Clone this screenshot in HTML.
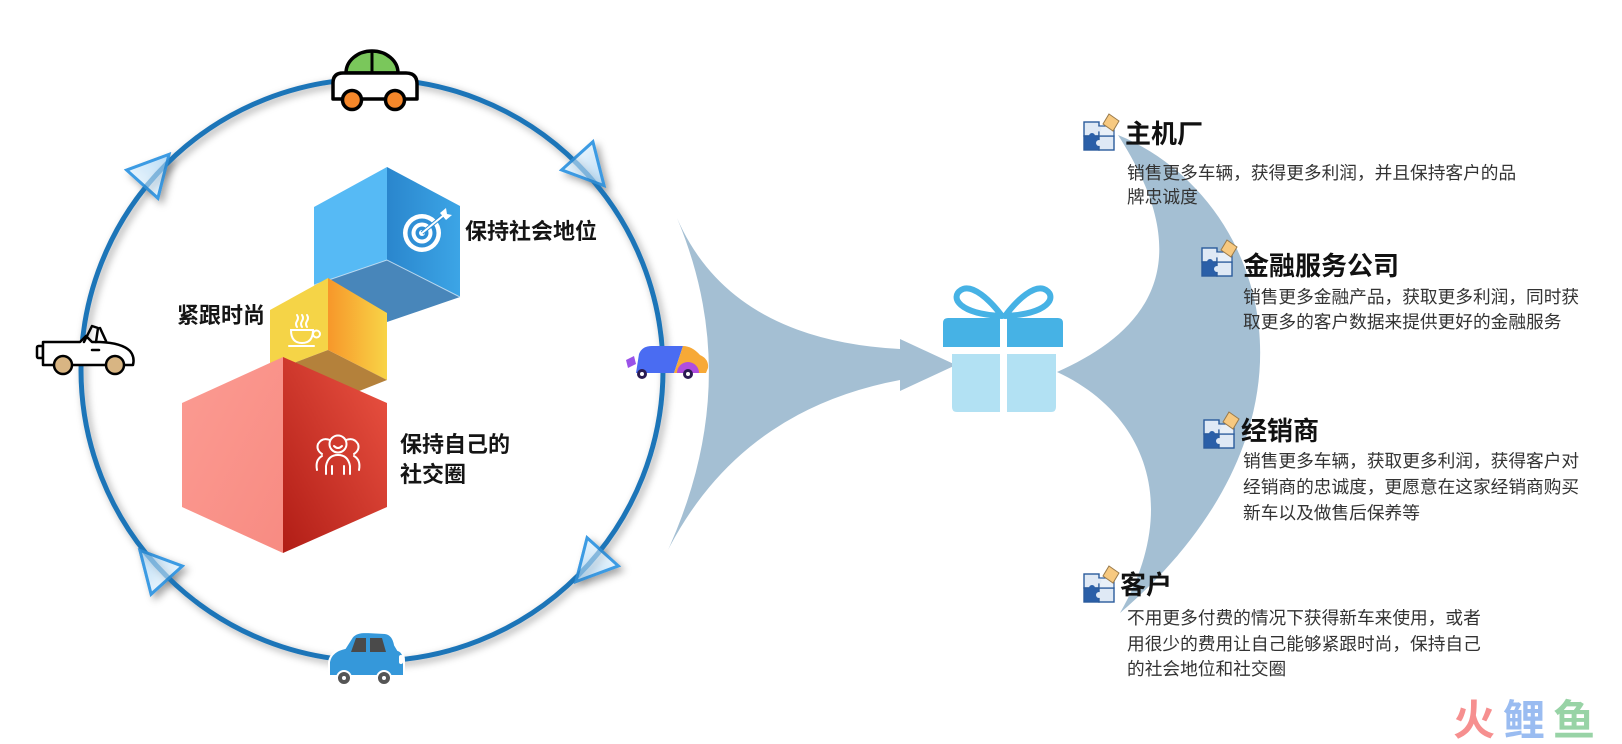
<!DOCTYPE html>
<html>
<head>
<meta charset="utf-8">
<style>
  html,body{margin:0;padding:0;background:#fff;}
  body{width:1622px;height:744px;position:relative;overflow:hidden;
       font-family:"Liberation Sans","Noto Sans CJK SC",sans-serif;}
  svg.main{position:absolute;left:0;top:0;}
  .t{position:absolute;white-space:nowrap;font-family:"Liberation Sans","Noto Sans CJK SC",sans-serif;}
  .lbl{font-size:22px;font-weight:bold;color:#151515;line-height:30px;}
  .ttl{font-size:26px;font-weight:bold;color:#111;line-height:30px;}
  .dsc{font-size:17.7px;color:#333;}
  .wm{font-size:42px;font-weight:bold;letter-spacing:8px;line-height:44px;opacity:0.9;}
</style>
</head>
<body>
<svg class="main" width="1622" height="744" viewBox="0 0 1622 744" xmlns="http://www.w3.org/2000/svg">
  <defs>
    <filter id="sh" x="-20%" y="-20%" width="140%" height="140%">
      <feDropShadow dx="3" dy="3" stdDeviation="4" flood-color="#000" flood-opacity="0.35"/>
    </filter>
    <filter id="tsh" x="-50%" y="-50%" width="200%" height="200%">
      <feDropShadow dx="4" dy="4" stdDeviation="4" flood-color="#000" flood-opacity="0.35"/>
    </filter>
    <linearGradient id="gBlueR" x1="0" y1="0" x2="1" y2="0">
      <stop offset="0" stop-color="#2a86cd"/>
      <stop offset="1" stop-color="#3ca5e6"/>
    </linearGradient>
    <linearGradient id="gYelR" x1="0" y1="0" x2="1" y2="0">
      <stop offset="0" stop-color="#f7972a"/>
      <stop offset="1" stop-color="#f8d447"/>
    </linearGradient>
    <linearGradient id="gRedR" x1="0" y1="1" x2="1" y2="0">
      <stop offset="0" stop-color="#b11d16"/>
      <stop offset="1" stop-color="#ec5443"/>
    </linearGradient>
    <linearGradient id="gRedL" x1="0" y1="0" x2="1" y2="1">
      <stop offset="0" stop-color="#fb9b92"/>
      <stop offset="1" stop-color="#f88b82"/>
    </linearGradient>
    <linearGradient id="gTri" x1="0" y1="0" x2="1" y2="0">
      <stop offset="0" stop-color="#e4f2fc"/>
      <stop offset="1" stop-color="#b9dcf6"/>
    </linearGradient>
    <g id="puz">
      <rect x="1" y="8" width="15" height="14" fill="#dfe9f5" stroke="#2a5b9c" stroke-width="1.4"/>
      <rect x="1" y="22" width="15" height="14" fill="#2a5fa8" stroke="#2a5b9c" stroke-width="1.4"/>
      <rect x="16" y="22" width="15" height="14" fill="#dfe9f5" stroke="#2a5b9c" stroke-width="1.4"/>
      <rect x="16" y="12" width="15" height="10" fill="#e9f0f8" stroke="#2a5b9c" stroke-width="1.2"/>
      <circle cx="9" cy="22" r="3" fill="#2a5fa8"/>
      <circle cx="16" cy="29" r="3" fill="#dfe9f5"/>
      <circle cx="16" cy="15" r="2.5" fill="#dfe9f5"/>
      <polygon points="26,0 36,7 30,17 20,10" fill="#f7c980" stroke="#9a7a4a" stroke-width="1"/>
    </g>
    <path id="tri" d="M21,0 L-19,-21 L-19,21 Z" fill="url(#gTri)" stroke="#3d9be3" stroke-width="3" stroke-linejoin="miter"/>
  </defs>

  <!-- triangles -->
  <g filter="url(#tsh)">
    <use href="#tri" transform="translate(155,170) rotate(312)"/>
    <use href="#tri" transform="translate(590,170) rotate(48)"/>
    <use href="#tri" transform="translate(590,566) rotate(132)"/>
    <use href="#tri" transform="translate(154,566) rotate(228)"/>
  </g>

  <!-- big circle -->
  <circle cx="372" cy="370" r="291" fill="none" stroke="#1f75b8" stroke-width="5" filter="url(#sh)"/>

  <!-- triangles overlay (semi-transparent on top of line) -->
  <g opacity="0.55">
    <use href="#tri" transform="translate(155,170) rotate(312)"/>
    <use href="#tri" transform="translate(590,170) rotate(48)"/>
    <use href="#tri" transform="translate(590,566) rotate(132)"/>
    <use href="#tri" transform="translate(154,566) rotate(228)"/>
  </g>

  <!-- blue cube -->
  <polygon points="387,167 314,207 314,285 387,260" fill="#56baf5"/>
  <polygon points="387,167 460,206 460,297 387,260" fill="url(#gBlueR)"/>
  <polygon points="387,260 460,297 387,322 314,285" fill="#4886ba"/>
  <polyline points="314,285 387,260 460,297" fill="none" stroke="#cfe6f7" stroke-width="1" opacity="0.8"/>
  <!-- target icon -->
  <circle cx="422" cy="233" r="19" fill="#fff"/>
  <circle cx="422" cy="233" r="14.5" fill="#2f8fd6"/>
  <circle cx="422" cy="233" r="10.5" fill="#fff"/>
  <circle cx="422" cy="233" r="6.5" fill="#2f8fd6"/>
  <circle cx="422" cy="233" r="3" fill="#fff"/>
  <line x1="422" y1="233" x2="444" y2="215" stroke="#2f8fd6" stroke-width="4"/>
  <line x1="422" y1="233" x2="444" y2="215" stroke="#fff" stroke-width="2"/>
  <path d="M440,213 L446,208 L447,214 L452,215 L446,220 Z" fill="#fff"/>

  <!-- yellow cube -->
  <polygon points="328,278 270,310 270,372 328,350" fill="#f5d447"/>
  <polygon points="328,278 387,313 387,380 328,350" fill="url(#gYelR)"/>
  <polygon points="328,350 387,380 329,403 270,372" fill="#b4813b"/>
  <!-- coffee icon -->
  <g fill="none" stroke="#fff" stroke-width="2" stroke-linecap="round">
    <path d="M291,330 L313,330 Q313,343 302,343 Q291,343 291,330 Z"/>
    <circle cx="316.5" cy="334" r="3.5"/>
    <line x1="289" y1="346" x2="314" y2="346"/>
    <path d="M297,327 Q295,324 297,321 Q299,318 297,315"/>
    <path d="M302,327 Q300,324 302,321 Q304,318 302,315"/>
    <path d="M307,327 Q305,324 307,321 Q309,318 307,315"/>
  </g>

  <!-- red cube -->
  <polygon points="283,357 182,403 182,507 283,553" fill="url(#gRedL)"/>
  <polygon points="283,357 387,403 387,507 283,553" fill="url(#gRedR)"/>
  <!-- people icon -->
  <g fill="none" stroke="#fff" stroke-width="2" stroke-linecap="round">
    <circle cx="338" cy="444" r="8.5"/>
    <path d="M334,446 Q338,450 342,446"/>
    <path d="M326,474 L326,466 Q328,455 338,455 Q348,455 350,466 L350,474"/>
    <path d="M330,440 Q322,437 318,444 Q316,450 322,454"/>
    <path d="M346,440 Q354,437 358,444 Q360,450 354,454"/>
    <path d="M317,470 Q315,460 322,456"/>
    <path d="M359,470 Q361,460 354,456"/>
    <line x1="332" y1="466" x2="332" y2="474"/>
    <line x1="344" y1="466" x2="344" y2="474"/>
  </g>

  <!-- top car -->
  <path d="M346,73 A26,22 0 0 1 398,73 Z" fill="#7ac75b" stroke="#000" stroke-width="3.5" stroke-linejoin="round"/>
  <line x1="372" y1="51" x2="372" y2="73" stroke="#000" stroke-width="3"/>
  <path d="M343,73 L406,73 Q417,73 417,84 L417,99 L333,99 L333,83 Q333,73 343,73 Z" fill="#fff" stroke="#000" stroke-width="3.5" stroke-linejoin="round"/>
  <circle cx="352" cy="100" r="9.5" fill="#f5872a" stroke="#000" stroke-width="3.5"/>
  <circle cx="395" cy="100" r="9.5" fill="#f5872a" stroke="#000" stroke-width="3.5"/>

  <!-- left convertible -->
  <g stroke="#000" stroke-width="2.5" stroke-linejoin="round" stroke-linecap="round">
    <rect x="37" y="346" width="6" height="12" rx="1.5" fill="#fff"/>
    <path d="M43,342 L80,342 L86,336 L92,342 L100,342 Q122,343 130,351 Q135,357 133,365 L43,365 Z" fill="#fff"/>
    <path d="M84,342 L92,326 L98,328 L96,342" fill="none"/>
    <line x1="100" y1="328" x2="106" y2="341"/>
    <line x1="92" y1="350" x2="99" y2="350"/>
    <circle cx="63" cy="365" r="9" fill="#d8b583"/>
    <circle cx="115" cy="365" r="9" fill="#d8b583"/>
  </g>

  <!-- right colorful car -->
  <path d="M626,360 L634,356 L636,364 L628,368 Z" fill="#9a52e8"/>
  <path d="M636,373 L639,354 Q642,346 652,346 L683,346 L674,373 Z" fill="#4a6cf2"/>
  <path d="M674,373 L683,346 Q692,346 700,355 Q709,359 708,368 L706,373 Z" fill="#f7a937"/>
  <path d="M677,373 A11,11 0 0 1 699,373 Z" fill="#b04de0"/>
  <circle cx="642" cy="374" r="5" fill="#2a1b52"/>
  <circle cx="642" cy="374" r="2" fill="#fff"/>
  <circle cx="688" cy="374" r="5" fill="#2a1b52"/>
  <circle cx="688" cy="374" r="2" fill="#fff"/>

  <!-- bottom blue car -->
  <path d="M329,676 L329,662 Q331,651 345,648 L352,637 Q356,632 366,632 L385,633 Q393,634 395,645 L398,650 Q404,652 404,661 L404,676 Z" fill="#3598da" stroke="#fff" stroke-width="2"/>
  <polygon points="356,638 366,638 366,652 351,652" fill="#4a4a4a"/>
  <polygon points="370,638 382,638 386,652 370,652" fill="#4a4a4a"/>
  <rect x="399" y="655" width="4" height="9" rx="2" fill="#fff"/>
  <circle cx="344" cy="678" r="7" fill="#555" stroke="#fff" stroke-width="2"/>
  <circle cx="344" cy="678" r="2" fill="#fff"/>
  <circle cx="384" cy="678" r="7" fill="#555" stroke="#fff" stroke-width="2"/>
  <circle cx="384" cy="678" r="2" fill="#fff"/>

  <!-- middle big arrow -->
  <path d="M677,218 Q730,340 900,349 L900,339 L956,365 L900,391 L900,380 Q740,410 668,550 Q745,380 677,218 Z" fill="#a4bfd3"/>

  <!-- gift -->
  <path d="M943,347 L943,323 Q943,318 948,318 L1058,318 Q1063,318 1063,323 L1063,347 Z" fill="#46b2e5"/>
  <path d="M952,354 L1056,354 L1056,407 Q1056,412 1051,412 L957,412 Q952,412 952,407 Z" fill="#b2e1f3"/>
  <rect x="1000" y="316" width="7" height="98" fill="#fff"/>
  <rect x="940" y="347" width="126" height="7" fill="#fff"/>
  <g fill="none" stroke="#46b2e5" stroke-width="6" stroke-linejoin="round">
    <path d="M1002,316 C990,300 972,283 961,290 C950,297 958,314 1002,316 Z"/>
    <path d="M1005,316 C1017,300 1035,283 1046,290 C1057,297 1049,314 1005,316 Z"/>
  </g>

  <!-- right crescent -->
  <path d="M1057,372 C1140,335 1205,270 1118,135 C1265,195 1345,420 1120,613 C1185,500 1140,410 1057,372 Z" fill="#a4bfd3"/>

  <!-- puzzle icons -->
  <use href="#puz" transform="translate(1083,114)"/>
  <use href="#puz" transform="translate(1201,240)"/>
  <use href="#puz" transform="translate(1203,412)"/>
  <use href="#puz" transform="translate(1083,566)"/>
</svg>

<!-- left labels -->
<div class="t lbl" style="left:465px;top:217px;">保持社会地位</div>
<div class="t lbl" style="left:177px;top:301px;">紧跟时尚</div>
<div class="t lbl" style="left:400px;top:430px;">保持自己的<br>社交圈</div>

<!-- right blocks -->
<div class="t ttl" style="left:1125px;top:119px;">主机厂</div>
<div class="t dsc" style="left:1127px;top:161px;line-height:24px;">销售更多车辆，获得更多利润，并且保持客户的品<br>牌忠诚度</div>

<div class="t ttl" style="left:1243px;top:251px;">金融服务公司</div>
<div class="t dsc" style="left:1243px;top:285px;line-height:25px;">销售更多金融产品，获取更多利润，同时获<br>取更多的客户数据来提供更好的金融服务</div>

<div class="t ttl" style="left:1241px;top:416px;">经销商</div>
<div class="t dsc" style="left:1243px;top:448px;line-height:26px;">销售更多车辆，获取更多利润，获得客户对<br>经销商的忠诚度，更愿意在这家经销商购买<br>新车以及做售后保养等</div>

<div class="t ttl" style="left:1120px;top:570px;">客户</div>
<div class="t dsc" style="left:1127px;top:606px;line-height:25.5px;">不用更多付费的情况下获得新车来使用，或者<br>用很少的费用让自己能够紧跟时尚，保持自己<br>的社会地位和社交圈</div>

<!-- watermark -->
<div class="t wm" style="left:1453px;top:699px;"><span style="color:#f58383;">火</span><span style="color:#90b5f0;">鲤</span><span style="color:#8dcf9d;">鱼</span></div>
</body>
</html>
